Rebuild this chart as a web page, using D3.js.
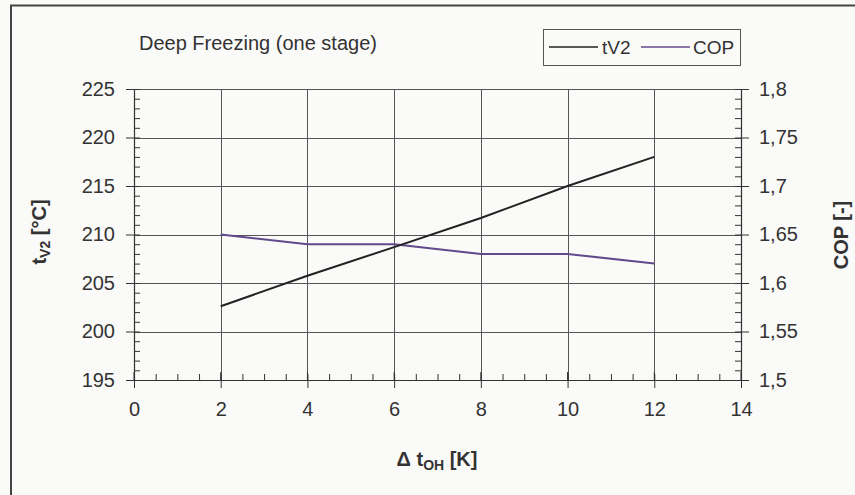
<!DOCTYPE html>
<html>
<head>
<meta charset="utf-8">
<script src="https://cdn.jsdelivr.net/npm/d3@7/dist/d3.min.js"></script>
<style>
  html, body { margin: 0; padding: 0; background: #fafaf8; }
  svg { display: block; font-family: Arial, "Liberation Sans", sans-serif; }
</style>
</head>
<body>
<svg id="chart" width="855" height="495"></svg>
<script>
// Superheating difference on the x axis
const deltaT = [2, 4, 6, 8, 10, 12];
// Discharge temperature tV2 [°C]
const tV2 = [202.6, 205.75, 208.7, 211.7, 215.0, 218.0];
// Coefficient of performance
const cop = [1.65, 1.64, 1.64, 1.63, 1.63, 1.62];

const xTicks = [0, 2, 4, 6, 8, 10, 12, 14];
const leftTicks = [195, 200, 205, 210, 215, 220, 225];
const rightTicks = [1.5, 1.55, 1.6, 1.65, 1.7, 1.75, 1.8];

const titleText = "Deep Freezing (one stage)";
const seriesNames = ["tV2", "COP"];

const svg = d3.select("#chart");
const margin = { left: 134, right: 741, top: 89, bottom: 380 };

const x = d3.scaleLinear().domain([0, 14]).range([margin.left, margin.right]);
const yL = d3.scaleLinear().domain([195, 225]).range([margin.bottom, margin.top]);
const yR = d3.scaleLinear().domain([1.5, 1.8]).range([margin.bottom, margin.top]);

const ink = "#333";
const gridColor = "#555";
const copColor = "#604a8c";
const tColor = "#222";

// outer chart frame
svg.append("rect")
  .attr("x", 11).attr("y", 5.5).attr("width", 900).attr("height", 600)
  .attr("fill", "#fafaf8").attr("stroke", "#444").attr("stroke-width", 2);

// gridlines
const grid = svg.append("g");
grid.selectAll("line.h").data(leftTicks.slice(1)).join("line")
  .attr("x1", margin.left).attr("x2", margin.right)
  .attr("y1", d => Math.round(yL(d)) + 0.5).attr("y2", d => Math.round(yL(d)) + 0.5)
  .attr("stroke", gridColor).attr("stroke-width", 1);
grid.selectAll("line.v").data(xTicks.slice(1, -1)).join("line")
  .attr("y1", margin.top).attr("y2", margin.bottom)
  .attr("x1", d => Math.round(x(d)) + 0.5).attr("x2", d => Math.round(x(d)) + 0.5)
  .attr("stroke", gridColor).attr("stroke-width", 1);

// axes
const comma = v => String(v).replace(".", ",");

function styleAxis(g) {
  g.select(".domain").attr("stroke", ink).attr("stroke-width", 1.2);
  g.selectAll(".tick line").attr("stroke", ink);
  g.selectAll(".tick text").attr("fill", ink).attr("font-size", 20);
}

// minor ticks (inside)
const leftAxisMinor = d3.axisRight(yL).tickValues(d3.range(195, 226, 1)).tickSize(6).tickFormat("");
svg.append("g").attr("transform", `translate(${margin.left},0)`).call(leftAxisMinor)
  .call(g => { g.select(".domain").remove(); g.selectAll("line").attr("stroke", ink); });
const rightAxisMinor = d3.axisLeft(yR).tickValues(d3.range(150, 181, 1).map(v => v / 100)).tickSize(6).tickFormat("");
svg.append("g").attr("transform", `translate(${margin.right},0)`).call(rightAxisMinor)
  .call(g => { g.select(".domain").remove(); g.selectAll("line").attr("stroke", ink); });
const bottomAxisMinor = d3.axisTop(x).tickValues(d3.range(0, 14.01, 0.5)).tickSize(6).tickFormat("");
svg.append("g").attr("transform", `translate(0,${margin.bottom})`).call(bottomAxisMinor)
  .call(g => { g.select(".domain").remove(); g.selectAll("line").attr("stroke", ink); });

// major axes
svg.append("g").attr("transform", `translate(${margin.left},0)`)
  .call(d3.axisLeft(yL).tickValues(leftTicks).tickSize(8).tickPadding(11).tickSizeOuter(0))
  .call(styleAxis);
svg.append("g").attr("transform", `translate(${margin.right},0)`)
  .call(d3.axisRight(yR).tickValues(rightTicks).tickFormat(comma).tickSize(8).tickPadding(10).tickSizeOuter(0))
  .call(styleAxis);
svg.append("g").attr("transform", `translate(0,${margin.bottom})`)
  .call(d3.axisBottom(x).tickValues(xTicks).tickSize(8).tickPadding(14).tickSizeOuter(0))
  .call(styleAxis);
// major x ticks cross the axis line
svg.append("g").selectAll("line").data(xTicks).join("line")
  .attr("x1", d => x(d)).attr("x2", d => x(d))
  .attr("y1", margin.bottom - 8).attr("y2", margin.bottom)
  .attr("stroke", ink);

// series lines
const lineT = d3.line().x((d, i) => x(deltaT[i])).y(d => yL(d));
const lineC = d3.line().x((d, i) => x(deltaT[i])).y(d => yR(d));
svg.append("path").datum(cop).attr("d", lineC)
  .attr("fill", "none").attr("stroke", copColor).attr("stroke-width", 2);
svg.append("path").datum(tV2).attr("d", lineT)
  .attr("fill", "none").attr("stroke", tColor).attr("stroke-width", 2);

// title
svg.append("text").attr("x", 139).attr("y", 50)
  .attr("font-size", 20).attr("fill", ink).text(titleText);

// legend
const lg = svg.append("g");
lg.append("rect").attr("x", 543.5).attr("y", 29.5).attr("width", 197).attr("height", 36)
  .attr("fill", "#fafaf8").attr("stroke", "#555").attr("stroke-width", 1);
const legendItems = [
  { name: seriesNames[0], color: tColor, x1: 549, x2: 598, tx: 602 },
  { name: seriesNames[1], color: copColor, x1: 641, x2: 690, tx: 693 }
];
legendItems.forEach(it => {
  lg.append("line").attr("x1", it.x1).attr("x2", it.x2).attr("y1", 47).attr("y2", 47)
    .attr("stroke", it.color).attr("stroke-width", 1.5);
  lg.append("text").attr("x", it.tx).attr("y", 54).attr("font-size", 19)
    .attr("fill", ink).text(it.name);
});

// axis titles
const leftTitle = svg.append("text")
  .attr("transform", "translate(46,232) rotate(-90)")
  .attr("text-anchor", "middle").attr("font-size", 20).attr("font-weight", "bold").attr("fill", ink);
leftTitle.append("tspan").text("t");
leftTitle.append("tspan").attr("font-size", 14).attr("dy", 4).text("V2");
leftTitle.append("tspan").attr("dy", -4).text(" [°C]");

svg.append("text")
  .attr("transform", "translate(848,235) rotate(-90)")
  .attr("text-anchor", "middle").attr("font-size", 20).attr("font-weight", "bold").attr("fill", ink)
  .text("COP [-]");

const xTitle = svg.append("text")
  .attr("x", 437).attr("y", 466)
  .attr("text-anchor", "middle").attr("font-size", 20).attr("font-weight", "bold").attr("fill", ink);
xTitle.append("tspan").text("Δ t");
xTitle.append("tspan").attr("font-size", 14).attr("dy", 4).text("OH");
xTitle.append("tspan").attr("dy", -4).text(" [K]");
</script>
</body>
</html>
